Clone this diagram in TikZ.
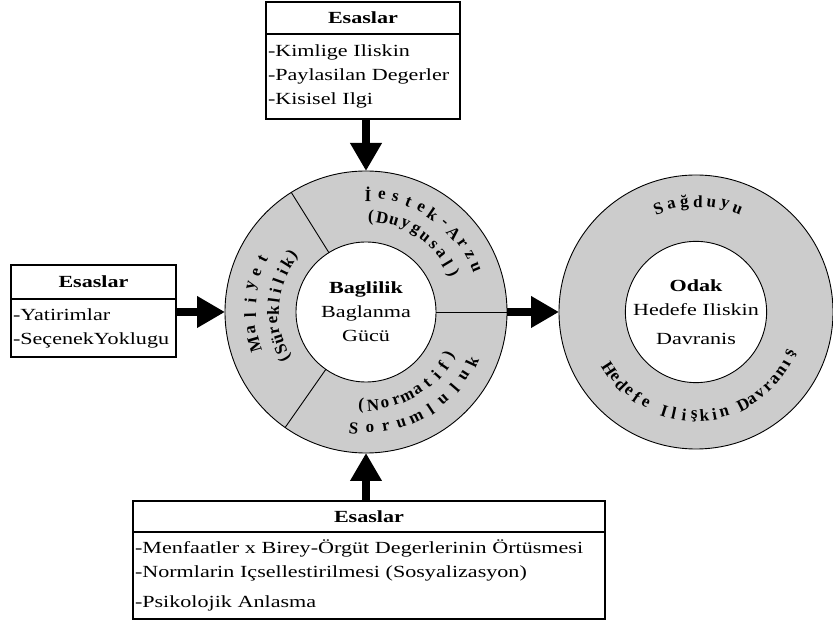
\documentclass[tikz,border=0pt]{standalone}
\usepackage{fontspec}
\setmainfont{Liberation Serif}[FakeStretch=1.3]
\newfontfamily\arcfont{Liberation Serif}
\usepackage{tikz}
\usetikzlibrary{arrows.meta,positioning,calc}
\definecolor{ringgray}{HTML}{CCCCCC}
\tikzset{
    boxtitle/.style={draw=black,line width=1.2pt,inner sep=0pt,outer sep=0pt,
      font=\fontsize{17}{24}\selectfont\bfseries,align=center},
    boxbody/.style={draw=black,line width=1.2pt,inner xsep=2pt,inner ysep=0pt,
      outer sep=0pt,align=left},
    ringnode/.style={draw=black,circle,fill=ringgray,line width=0.9pt,
      inner sep=0pt,outer sep=0pt},
    hubnode/.style={draw=black,circle,fill=white,line width=0.9pt,
      inner sep=0pt,outer sep=0pt,align=center},
    arcletter/.style={font=\arcfont\fontsize{17}{17}\selectfont\bfseries,inner sep=0pt},
    thickarrow/.style={-{Triangle[length=28pt,width=30pt]},draw=black,
      line width=8pt}
}
\begin{document}
\begin{tikzpicture}[x=1pt,y=1pt,font=\fontsize{17}{24}\selectfont]
  \useasboundingbox (0,0) rectangle (833,624);
  % left circle
  \coordinate (c1) at (366,312);
  \node[ringnode,minimum size=282pt] (c1out) at (c1) {};
  \node[hubnode,minimum size=140pt] (c1in) at (c1)
    {\textbf{Baglilik}\\Baglanma\\Gücü};
  \foreach \ang in {0,122,235}
    \draw[line width=0.9pt] (c1in.\ang) -- (c1out.\ang);
  % right circle
  \coordinate (c2) at (696,312);
  \node[ringnode,minimum size=274pt] (c2out) at (c2) {};
  \node[hubnode,minimum size=140pt] (c2in) at (c2)
    {\textbf{Odak}\\Hedefe Iliskin\\[5pt]Davranis};
  % letters on the rings
  \foreach \ch [count=\i, evaluate=\i as \a using 89-(\i-1)*6.7] in {İ,e,s,t,e,k,-,A,r,z,u}
    \node[arcletter,rotate=\a-90] at ($(c1)+(\a:118pt)$) {\ch};
  \foreach \ch [count=\i, evaluate=\i as \a using 87-(\i-1)*7.0] in {{(},D,u,y,g,u,s,a,l,{)}}
    \node[arcletter,rotate=\a-90] at ($(c1)+(\a:95pt)$) {\ch};
  \foreach \ch [count=\i, evaluate=\i as \a using 196-(\i-1)*7.2] in {M,a,l,i,y,e,t}
    \node[arcletter,rotate=\a-90] at ($(c1)+(\a:116pt)$) {\ch};
  \foreach \ch [count=\i, evaluate=\i as \a using 210-(\i-1)*6.2] in {{(},S,ü,r,e,k,l,i,l,i,k,{)}}
    \node[arcletter,rotate=\a-90] at ($(c1)+(\a:93pt)$) {\ch};
  \foreach \ch [count=\i, evaluate=\i as \a using 267+(\i-1)*7.3] in {{(},N,o,r,m,a,t,i,f,{)}}
    \node[arcletter,rotate=\a+90] at ($(c1)+(\a:94pt)$) {\ch};
  \foreach \ch [count=\i, evaluate=\i as \a using 264+(\i-1)*7.9] in {S,o,r,u,m,l,u,l,u,k}
    \node[arcletter,rotate=\a+90] at ($(c1)+(\a:117pt)$) {\ch};
  \foreach \ch [count=\i, evaluate=\i as \a using 110-(\i-1)*7] in {S,a,ğ,d,u,y,u}
    \node[arcletter,rotate=\a-90] at ($(c2)+(\a:110pt)$) {\ch};
  \foreach \ch [count=\i, evaluate=\i as \a using 213+(\i-1)*5.6]
      in {H,e,d,e,f,e,{},I,l,i,ş,k,i,n,{},D,a,v,r,a,n,ı,ş}
    \node[arcletter,rotate=\a+90] at ($(c2)+(\a:104pt)$) {\ch};
  % boxes
  \node[boxtitle,minimum width=194pt,minimum height=32pt] (topTitle) at (363,606) {Esaslar};
  \node[boxbody,text width=190pt,minimum height=85pt,below=0pt of topTitle] (topBody)
    {-Kimlige Iliskin\\-Paylasilan Degerler\\-Kisisel Ilgi};
  \node[boxtitle,minimum width=165pt,minimum height=34pt] (leftTitle) at (93.5,342) {Esaslar};
  \node[boxbody,text width=161pt,minimum height=58pt,below=0pt of leftTitle] (leftBody)
    {-Yatirimlar\\-SeçenekYoklugu};
  \node[boxtitle,minimum width=472pt,minimum height=31pt] (botTitle) at (369,107.5) {Esaslar};
  \node[boxbody,text width=468pt,minimum height=87pt,below=0pt of botTitle] (botBody)
    {-Menfaatler x Birey-Örgüt Degerlerinin Örtüsmesi\\
     -Normlarin Içsellestirilmesi (Sosyalizasyon)\\[6pt]
     -Psikolojik Anlasma};
  % arrows
  \draw[thickarrow] (topBody.south -| c1out.north) -- (c1out.north);
  \draw[thickarrow] (leftBody.east |- c1out.west) -- (c1out.west);
  \draw[thickarrow] (botTitle.north -| c1out.south) -- (c1out.south);
  \draw[thickarrow] (c1out.east) -- (c2out.west);
\end{tikzpicture}
\end{document}
